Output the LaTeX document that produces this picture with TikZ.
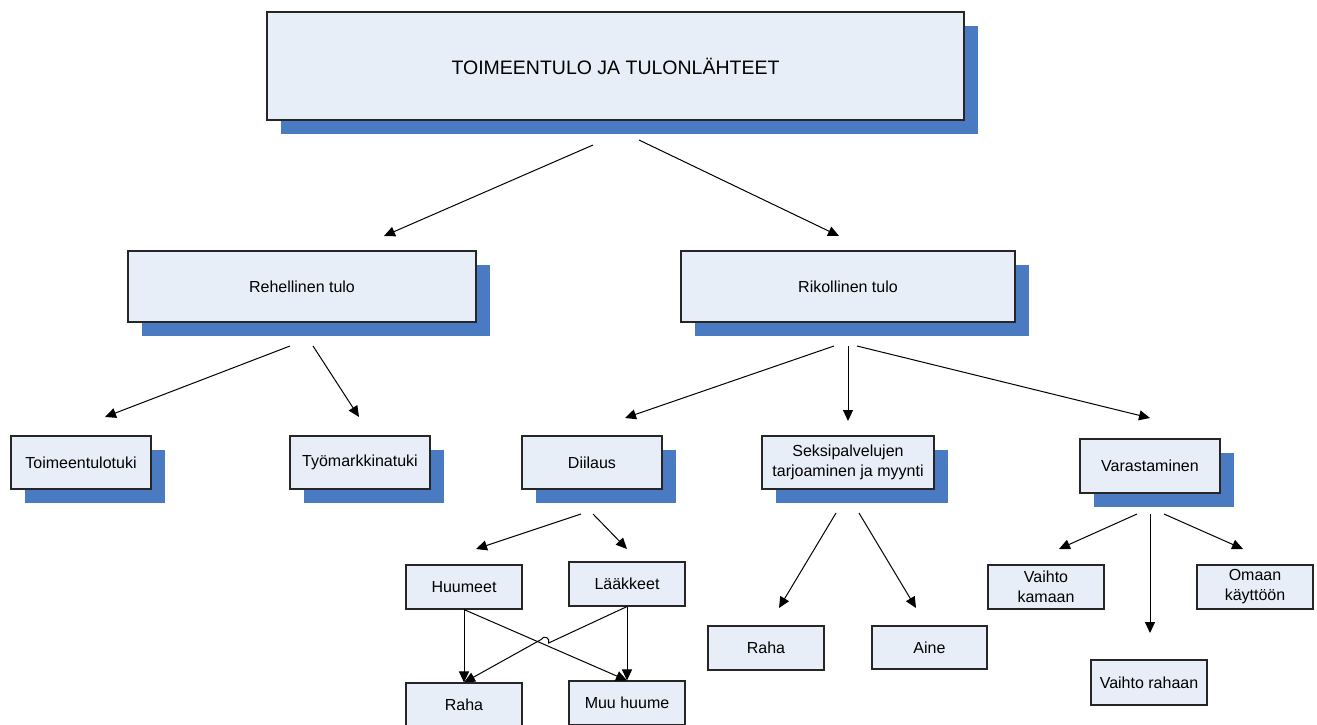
\documentclass[tikz,border=0pt]{standalone}
\usepackage{fontspec}
\setmainfont{Liberation Sans}
\usetikzlibrary{arrows.meta,shadows}

\definecolor{boxfill}{HTML}{E8EEF8}
\definecolor{shadowblue}{HTML}{4A7BC2}

\tikzset{
  box/.style={draw=black!85, fill=boxfill, line width=1.1pt, inner sep=0pt,
    align=center, font=\fontsize{16}{20}\selectfont},
  shadowed/.style={general shadow={fill=shadowblue, shadow xshift=14pt, shadow yshift=-14pt}},
  arr/.style={-{Triangle[length=11pt,width=10pt]}, line width=1pt}
}

\begin{document}
\begin{tikzpicture}[x=1pt,y=-1pt]

    \useasboundingbox (0,0) rectangle (1317,725);

    % top level
    \node[box,shadowed,minimum width=697pt,minimum height=108pt,
          font=\fontsize{19.5}{24}\selectfont] (title) at (615.5,66) {TOIMEENTULO JA TULONLÄHTEET};

    % second level
    \node[box,shadowed,minimum width=348pt,minimum height=71pt] (rehel) at (302,286.5) {Rehellinen tulo};
    \node[box,shadowed,minimum width=334pt,minimum height=71pt] (rikol) at (848,286.5) {Rikollinen tulo};

    % third level
    \node[box,shadowed,minimum width=140pt,minimum height=53pt] (toimtuki) at (81,462.5) {Toimeentulotuki};
    \node[box,shadowed,minimum width=140pt,minimum height=53pt] (tyotuki)  at (360,462.5) {Työmarkkinatuki};
    \node[box,shadowed,minimum width=140pt,minimum height=53pt] (diilaus)  at (592,462.5) {Diilaus};
    \node[box,shadowed,minimum width=172pt,minimum height=53pt] (seksi)    at (848,462.5) {Seksipalvelujen\\tarjoaminen ja myynti};
    \node[box,shadowed,minimum width=140pt,minimum height=54pt] (varast)   at (1150,466) {Varastaminen};

    % fourth level
    \node[box,minimum width=116pt,minimum height=44pt] (huumeet) at (464,587) {Huumeet};
    \node[box,minimum width=116pt,minimum height=44pt] (laake)   at (627,584) {Lääkkeet};
    \node[box,minimum width=116pt,minimum height=44pt] (raha1)   at (464,705) {Raha};
    \node[box,minimum width=116pt,minimum height=44pt] (muu)     at (627,703) {Muu huume};
    \node[box,minimum width=116pt,minimum height=44pt] (raha2)   at (766,648) {Raha};
    \node[box,minimum width=115pt,minimum height=43pt] (aine)    at (929.5,647.5) {Aine};
    \node[box,minimum width=116pt,minimum height=44pt] (kamaan)  at (1046,587) {Vaihto\\kamaan};
    \node[box,minimum width=116pt,minimum height=44pt] (omaan)   at (1255,587) {Omaan\\käyttöön};
    \node[box,minimum width=116pt,minimum height=45pt] (rahaan)  at (1149,682.5) {Vaihto rahaan};

    % free arrow ends
    \coordinate (title-l) at (593,145);   \coordinate (rehel-in) at (384,236);
    \coordinate (title-r) at (639,140);   \coordinate (rikol-in) at (839,236);
    \coordinate (rehel-l) at (290,346);   \coordinate (toim-in)  at (105,417);
    \coordinate (rehel-r) at (313,346);   \coordinate (tyo-in)   at (359,417);
    \coordinate (rikol-l) at (834,346);   \coordinate (diil-in)  at (625,418);
    \coordinate (rikol-m) at (848,346);   \coordinate (seksi-in) at (848,421);
    \coordinate (rikol-r) at (857,346);   \coordinate (var-in)   at (1150,418);
    \coordinate (diil-l)  at (581,514);   \coordinate (huu-in)   at (476,549);
    \coordinate (diil-r)  at (593,514);   \coordinate (laa-in)   at (627,549);
    \coordinate (seksi-l) at (836,513);   \coordinate (raha2-in) at (779,608);
    \coordinate (seksi-r) at (859,513);   \coordinate (aine-in)  at (916,608);
    \coordinate (var-l)   at (1137,514);  \coordinate (kam-in)   at (1059,549);
    \coordinate (var-m)   at (1150,514);  \coordinate (rah-in)   at (1150,633);
    \coordinate (var-r)   at (1164,514);  \coordinate (oma-in)   at (1243,549);

    \draw[arr] (title-l) -- (rehel-in);
    \draw[arr] (title-r) -- (rikol-in);
    \draw[arr] (rehel-l) -- (toim-in);
    \draw[arr] (rehel-r) -- (tyo-in);
    \draw[arr] (rikol-l) -- (diil-in);
    \draw[arr] (rikol-m) -- (seksi-in);
    \draw[arr] (rikol-r) -- (var-in);
    \draw[arr] (diil-l)  -- (huu-in);
    \draw[arr] (diil-r)  -- (laa-in);
    \draw[arr] (seksi-l) -- (raha2-in);
    \draw[arr] (seksi-r) -- (aine-in);
    \draw[arr] (var-l)   -- (kam-in);
    \draw[arr] (var-m)   -- (rah-in);
    \draw[arr] (var-r)   -- (oma-in);

    % drugs and medicines, with a small hop where the lines cross
    \coordinate (hop-a) at (548.6,643.0);
    \coordinate (hop-b) at (541.2,646.5);
    \draw[arr] (huumeet.south) -- (raha1.north);
    \draw[arr] (huumeet.south) -- (muu.north);
    \draw[arr] (laake.south)   -- (muu.north);
    \draw[arr] (laake.south) -- (hop-a) arc[start angle=-25.3,end angle=154.7,radius=4.1pt] -- (raha1.north);

\end{tikzpicture}
\end{document}
